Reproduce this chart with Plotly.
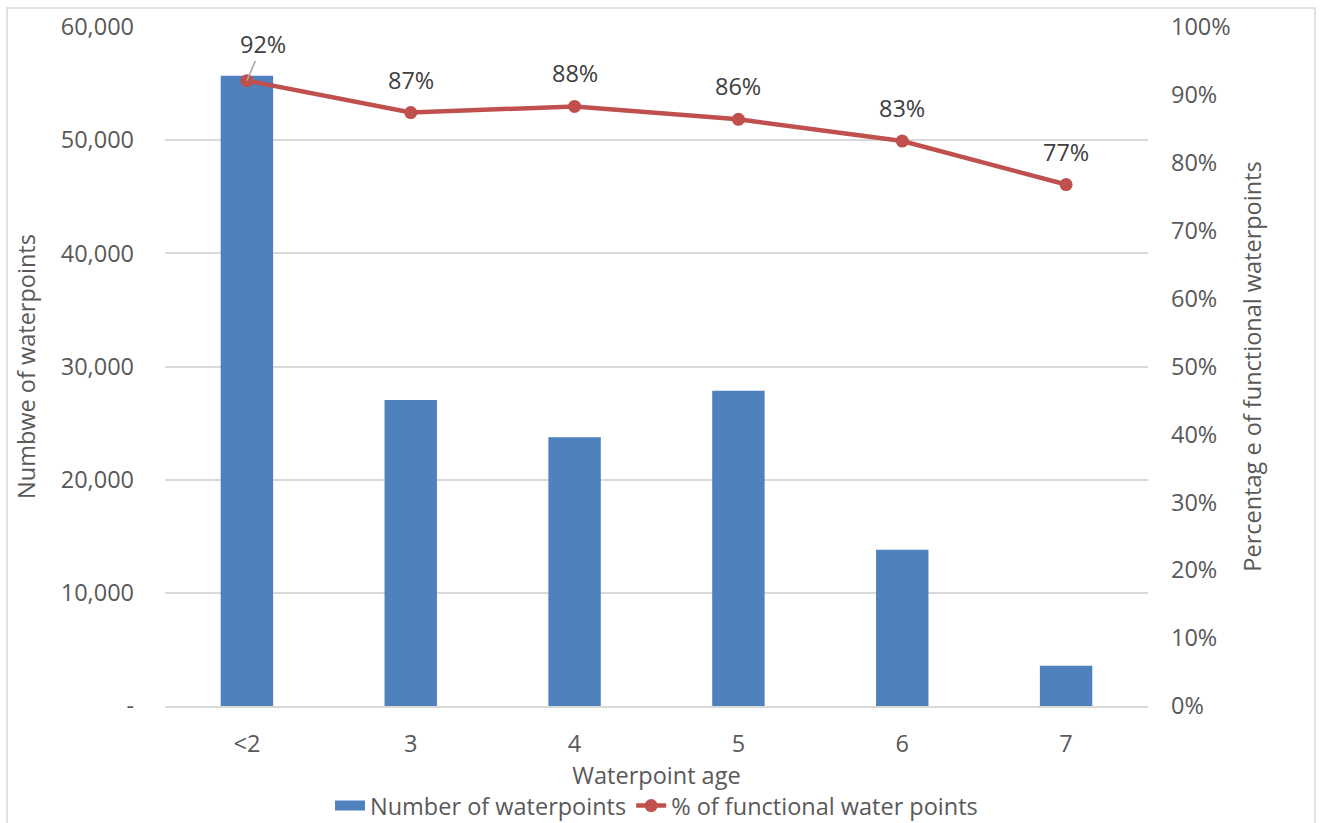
import plotly.graph_objects as go

# Waterpoint counts and functionality rate by age
ages = ["<2", "3", "4", "5", "6", "7"]
waterpoints = [55700, 27050, 23750, 27850, 13800, 3550]
pct_functional = [0.921, 0.874, 0.883, 0.864, 0.832, 0.768]

left_ticks = [0, 10000, 20000, 30000, 40000, 50000, 60000]
left_ticktext = ["-" if v == 0 else f"{v:,}" for v in left_ticks]
right_ticks = [i / 10 for i in range(11)]
right_ticktext = [f"{v:.0%}" for v in right_ticks]

BLUE = "#4f81bd"
RED = "#c0504d"
TEXT = "#595959"
GRID = "#d9d9d9"
FONT = "Open Sans"
FS = 23.5

fig = go.Figure()
fig.add_trace(go.Bar(
    x=ages, y=waterpoints, name="Number of waterpoints",
    marker=dict(color=BLUE, line=dict(width=0)), yaxis="y",
    showlegend=False,
))
# Legend entry for the bars drawn as a wide swatch
fig.add_trace(go.Scatter(
    x=[None], y=[None], name="Number of waterpoints",
    mode="lines", line=dict(color=BLUE, width=15), yaxis="y",
))
fig.add_trace(go.Scatter(
    x=ages, y=pct_functional, name="% of functional water points",
    mode="lines+markers", yaxis="y2",
    line=dict(color=RED, width=4.5),
    marker=dict(color=RED, size=13),
))

# Percentage labels above each point; the first one sits off to the side with a leader line
for i, v in enumerate(pct_functional):
    if i == 0:
        fig.add_annotation(
            x=i, y=v, xref="x", yref="y2", text=f"{v:.0%}",
            showarrow=True, arrowhead=0, arrowcolor="#a6a6a6", arrowwidth=1.5,
            ax=16, ay=-37, font=dict(family=FONT, size=FS, color="#404040"),
        )
    else:
        fig.add_annotation(
            x=i, y=v, xref="x", yref="y2", text=f"{v:.0%}",
            showarrow=False, yshift=33,
            font=dict(family=FONT, size=FS, color="#404040"),
        )

# Outer chart border
fig.add_shape(
    type="rect", xref="paper", yref="paper",
    x0=-0.1607, x1=1.1699, y0=-0.19, y1=1.028,
    line=dict(color=GRID, width=1.5), fillcolor="rgba(0,0,0,0)", layer="below",
)

fig.update_layout(
    width=1322, height=823,
    margin=dict(l=165, r=174, t=27, b=117, autoexpand=False),
    paper_bgcolor="white", plot_bgcolor="white",
    font=dict(family=FONT, size=FS, color=TEXT),
    bargap=0.68,
    showlegend=True,
    legend=dict(
        orientation="h", x=0.5, xanchor="center", y=-0.147, yanchor="middle",
        font=dict(family=FONT, size=FS, color=TEXT),
        traceorder="normal", itemclick=False,
    ),
    xaxis=dict(
        type="category", range=[-0.5, 5.5],
        showgrid=False, showline=True, linecolor=GRID, linewidth=1.5,
        ticks="", ticklabelstandoff=16, tickfont=dict(size=FS, color=TEXT),
        title=dict(text="Waterpoint age", font=dict(size=FS, color=TEXT), standoff=4),
    ),
    yaxis=dict(
        range=[0, 60000], tickvals=left_ticks, ticktext=left_ticktext,
        showgrid=True, gridcolor=GRID, gridwidth=1.5, zeroline=False,
        showline=False, ticks="", ticklabelstandoff=30,
        tickfont=dict(size=FS, color=TEXT),
        title=dict(text="Numbwe of waterpoints", font=dict(size=FS, color=TEXT), standoff=18),
    ),
    yaxis2=dict(
        range=[0, 1], tickvals=right_ticks, ticktext=right_ticktext,
        overlaying="y", side="right", showgrid=False, zeroline=False,
        showline=False, ticks="", ticklabelstandoff=22,
        tickfont=dict(size=FS, color=TEXT),
        title=dict(text="Percentag e of functional waterpoints", font=dict(size=FS, color=TEXT), standoff=14),
    ),
)

fig.write_html("out.html")
